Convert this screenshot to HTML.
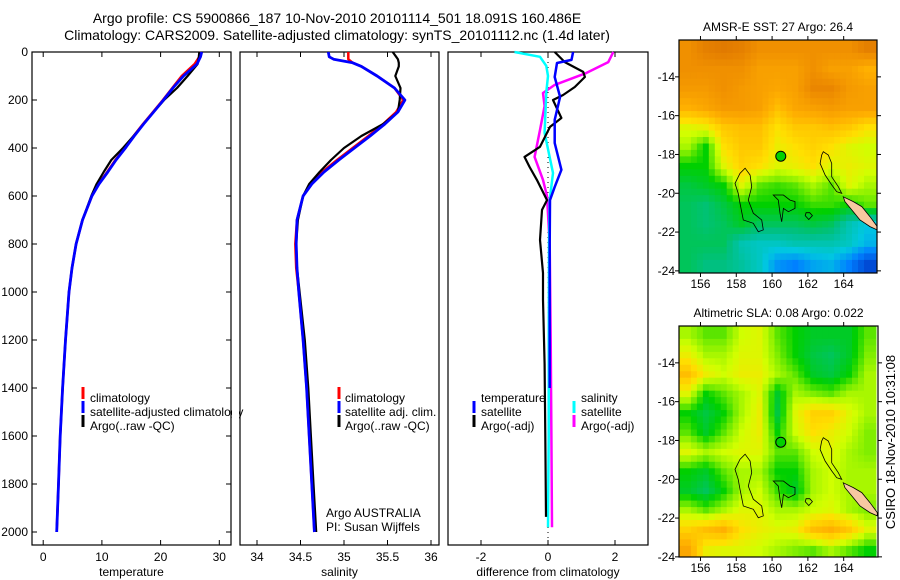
<!DOCTYPE html>
<html><head><meta charset="utf-8">
<style>
html,body{margin:0;padding:0;background:#fff;}
svg{display:block;font-family:"Liberation Sans",sans-serif;}
text{fill:#000;}
</style></head>
<body>
<svg id="fig" width="900" height="580" viewBox="0 0 900 580" xmlns="http://www.w3.org/2000/svg">
<text x="337" y="23" font-size="14" text-anchor="middle">Argo profile: CS 5900866_187 10-Nov-2010 20101114_501 18.091S 160.486E</text>
<text x="337" y="40" font-size="14" text-anchor="middle">Climatology: CARS2009. Satellite-adjusted climatology: synTS_20101112.nc (1.4d later)</text>
<g id="g"></g>
</svg>
<script>
// ---------- data ----------
const depthTicks=[0,200,400,600,800,1000,1200,1400,1600,1800,2000];
const tempTicks=[0,10,20,30];
const salTicks=[34,34.5,35,35.5,36];
const salTickLabels=["34","34.5","35","35.5","36"];
const diffTicks=[-2,0,2];
const lonTicks=[156,158,160,162,164];
const latTicks=[-14,-16,-18,-20,-22,-24];

const tempDepth=[0,20,50,100,150,200,250,300,350,400,450,500,550,600,700,800,900,1000,1200,1400,1600,1800,2000];
const tempClim=[26.8,26.6,25.8,23.6,22.0,20.4,18.7,17.0,15.4,13.9,12.3,10.9,9.4,8.3,6.7,5.6,4.9,4.4,3.8,3.3,2.9,2.6,2.3];
const tempSat=[27.0,26.8,26.2,23.9,22.1,20.5,18.8,17.1,15.5,14.0,12.4,11.0,9.5,8.3,6.7,5.6,4.9,4.4,3.8,3.3,2.9,2.6,2.3];
const tempArgo=[26.6,26.5,26.3,24.6,22.8,20.6,18.8,17.1,15.4,13.6,11.6,10.3,9.1,8.2,6.7,5.6,4.9,4.4,3.8,3.3,2.9,2.6,2.3];

const salDepth=[0,20,30,45,60,100,150,200,250,300,350,400,450,500,550,600,700,800,900,1000,1200,1400,1600,1800,2000];
const salClim=[35.05,35.05,35.05,35.1,35.2,35.38,35.58,35.68,35.6,35.45,35.28,35.1,34.92,34.75,34.62,34.53,34.46,34.44,34.45,34.48,34.53,34.57,34.6,34.63,34.66];
const salSat=[34.82,34.83,34.88,35.1,35.2,35.38,35.58,35.7,35.62,35.47,35.3,35.12,34.94,34.77,34.63,34.53,34.46,34.45,34.46,34.48,34.53,34.57,34.6,34.63,34.66];
const salArgo=[35.56,35.6,35.62,35.63,35.63,35.59,35.65,35.64,35.62,35.45,35.2,35.0,34.85,34.72,34.6,34.53,34.47,34.45,34.46,34.49,34.55,34.59,34.62,34.65,34.68];

const dTempArgoDepth=[0,42,83,104,146,179,200,275,312,395,437,479,533,617,658,783,921,1033,1300,1600,1937];
const dTempArgo=[0.2,0.5,1.05,1.1,0.8,0.45,0.15,0.4,0.06,-0.24,-0.7,-0.55,-0.33,-0.03,-0.18,-0.24,-0.15,-0.15,-0.1,-0.08,-0.06];
const dTempSatDepth=[0,33,46,104,187,283,379,491,562,617,800,1000,1400];
const dTempSat=[0.75,0.7,0.27,0.2,0.36,0.2,0.2,0.4,0.2,0.06,0.05,0.05,0.05];
const dSalSatDepth=[0,20,58,100,167,337,504,617,800,1200,1600,1980];
const dSalSat=[-1.0,-0.24,-0.05,0.0,-0.05,-0.1,0.15,0.05,0.03,0.02,0.02,0.0];
const dSalArgoDepth=[0,42,87,137,171,225,325,437,533,600,800,1200,1600,1980];
const dSalArgo=[1.95,1.8,1.15,0.2,-0.15,-0.1,-0.24,-0.4,-0.15,-0.03,0.05,0.08,0.1,0.12];

const sstGrid=[
[0.85,0.9,0.92,0.9,0.85,0.85,0.85,0.85,0.85,0.85,0.9],
[0.85,0.85,0.85,0.85,0.8,0.8,0.8,0.85,0.8,0.8,0.75],
[0.82,0.82,0.85,0.82,0.8,0.78,0.8,0.88,0.88,0.82,0.8],
[0.75,0.78,0.82,0.82,0.8,0.72,0.78,0.8,0.82,0.8,0.8],
[0.6,0.62,0.7,0.72,0.72,0.65,0.7,0.7,0.72,0.7,0.65],
[0.55,0.45,0.65,0.7,0.7,0.62,0.65,0.68,0.65,0.6,0.58],
[0.45,0.45,0.6,0.68,0.65,0.6,0.62,0.65,0.6,0.62,0.6],
[0.4,0.42,0.45,0.6,0.5,0.48,0.5,0.55,0.5,0.6,0.55],
[0.38,0.36,0.4,0.45,0.45,0.45,0.45,0.48,0.48,0.45,0.5],
[0.38,0.36,0.38,0.42,0.38,0.38,0.38,0.4,0.38,0.3,0.25],
[0.38,0.38,0.38,0.3,0.28,0.28,0.3,0.3,0.3,0.28,0.22],
[0.38,0.35,0.35,0.32,0.28,0.18,0.15,0.2,0.22,0.15,0.05]];
const slaGrid=[
[0.55,0.5,0.5,0.58,0.6,0.5,0.45,0.42,0.42,0.42,0.5],
[0.62,0.55,0.55,0.6,0.6,0.52,0.45,0.4,0.38,0.42,0.52],
[0.72,0.62,0.58,0.62,0.62,0.55,0.5,0.42,0.4,0.45,0.55],
[0.6,0.45,0.5,0.55,0.6,0.42,0.55,0.52,0.5,0.55,0.55],
[0.45,0.4,0.45,0.55,0.62,0.4,0.6,0.68,0.68,0.6,0.55],
[0.5,0.42,0.5,0.58,0.62,0.45,0.58,0.65,0.62,0.58,0.52],
[0.6,0.55,0.58,0.6,0.6,0.5,0.5,0.58,0.6,0.55,0.52],
[0.45,0.42,0.5,0.55,0.55,0.45,0.45,0.55,0.58,0.55,0.55],
[0.42,0.38,0.45,0.55,0.58,0.48,0.42,0.55,0.58,0.55,0.55],
[0.55,0.5,0.55,0.6,0.6,0.55,0.55,0.58,0.6,0.55,0.52],
[0.68,0.72,0.75,0.65,0.62,0.6,0.62,0.72,0.75,0.7,0.6],
[0.78,0.62,0.6,0.6,0.58,0.55,0.52,0.5,0.55,0.5,0.45]];
const gridLon0=154.8, gridLat0=-12.1;

const isl1=[[158.49,-18.71],[158.77,-19.06],[158.86,-19.66],[158.67,-20.35],[158.95,-21.03],[159.42,-21.38],[159.51,-21.89],[159.23,-21.98],[158.95,-21.55],[158.39,-21.38],[158.21,-20.52],[158.11,-20.0],[157.93,-19.49],[158.21,-18.97]];
const isl2=[[160.07,-20.09],[160.63,-20.09],[161.0,-20.35],[161.28,-20.43],[161.28,-20.78],[160.91,-20.95],[160.63,-20.78],[160.54,-21.47],[160.44,-21.03],[160.35,-20.35]];
const isl3=[[162.86,-17.86],[163.14,-18.03],[163.33,-18.46],[163.33,-19.15],[163.7,-19.66],[163.89,-20.0],[163.61,-19.92],[163.33,-19.57],[162.96,-19.06],[162.68,-18.46],[162.77,-18.03]];
const isl4=[[161.9,-21.0],[162.1,-21.0],[162.25,-21.15],[162.05,-21.35],[161.85,-21.15]];
const newCal=[[163.98,-20.18],[164.54,-20.43],[165.01,-20.69],[165.47,-21.21],[165.88,-21.72],[165.88,-21.89],[165.47,-21.72],[164.91,-21.38],[164.54,-20.95],[164.07,-20.43]];
const argoPos=[160.486,-18.091];

// ---------- helpers ----------
const NS="http://www.w3.org/2000/svg";
const G=document.getElementById('g');
function mk(tag,attrs,parent){const e=document.createElementNS(NS,tag);for(const k in attrs)e.setAttribute(k,attrs[k]);(parent||G).appendChild(e);return e;}
function txt(s,x,y,size,anchor,name){const t=mk('text',{x:x,y:y,'font-size':size,'text-anchor':anchor||'start'});t.textContent=s;


return t;}

const yTop=52, yBot=545;
const yD=d=>52+d*0.24;
const panels=[
 {x0:32,x1:231,sx:v=>43.2+v*5.87,name:'temperature-panel'},
 {x0:240,x1:439,sx:v=>257+(v-34)*87,name:'salinity-panel'},
 {x0:448,x1:648,sx:v=>548+v*33.5,name:'difference-panel'}];

function frame(p){
 const r=mk('rect',{x:p.x0,y:yTop,width:p.x1-p.x0,height:yBot-yTop,fill:'none',stroke:'#000','stroke-width':1.2});
 
 
}
function xticks(p,vals,labels,title){
 vals.forEach((v,i)=>{const x=p.sx(v);
  const a=mk('line',{x1:x,x2:x,y1:yBot,y2:yBot-5,stroke:'#000'});
  
  
  const b=mk('line',{x1:x,x2:x,y1:yTop,y2:yTop+5,stroke:'#000'});
  
  
  txt(labels[i],x,561,12,'middle','x-tick-label');});
 txt(title,(p.x0+p.x1)/2,576,12,'middle','x-axis-title');
}
function line(p,xs,ds,color,w,name){
 const pts=xs.map((v,i)=>p.sx(v).toFixed(1)+','+yD(ds[i]).toFixed(1)).join(' ');
 const l=mk('polyline',{points:pts,fill:'none',stroke:color,'stroke-width':w,'stroke-linejoin':'round'});
 
 
}
function legBar(x,y,color){const l=mk('line',{x1:x,x2:x,y1:y-11,y2:y+1,stroke:color,'stroke-width':3});
 
 }

const P0=panels[0],P1=panels[1],P2=panels[2];
frame(P0);
depthTicks.forEach(d=>{const y=yD(d);
 const a=mk('line',{x1:P0.x0,x2:P0.x0+5,y1:y,y2:y,stroke:'#000'});
 
 
 const b=mk('line',{x1:P0.x1,x2:P0.x1-5,y1:y,y2:y,stroke:'#000'});
 
 
 txt(String(d),28,y+4,12,'end','y-tick-label');});
xticks(P0,tempTicks,tempTicks.map(String),'temperature');
line(P0,tempClim,tempDepth,'#f00',2.5,'temp-climatology-line');
line(P0,tempArgo,tempDepth,'#000',2.2,'temp-argo-line');
line(P0,tempSat,tempDepth,'#00f',2.8,'temp-satellite-line');
legBar(83,398,'#f00');txt('climatology',90,402,12,'start','legend-climatology');
legBar(83,412,'#00f');txt('satellite-adjusted climatology',90,416,12,'start','legend-satellite-adjusted');
legBar(83,426,'#000');txt('Argo(..raw -QC)',90,430,12,'start','legend-argo');

const wipe=mk('rect',{x:232,y:yTop-2,width:7,height:yBot-yTop+4,fill:'#fff'});


frame(P1);
xticks(P1,salTicks,salTickLabels,'salinity');
line(P1,salClim,salDepth,'#f00',2.5,'sal-climatology-line');
line(P1,salArgo,salDepth,'#000',2.2,'sal-argo-line');
line(P1,salSat,salDepth,'#00f',2.8,'sal-satellite-line');
legBar(339,398,'#f00');txt('climatology',345,402,12,'start','legend-climatology');
legBar(339,412,'#00f');txt('satellite adj. clim.',345,416,12,'start','legend-satellite-adj');
legBar(339,426,'#000');txt('Argo(..raw -QC)',345,430,12,'start','legend-argo');
txt('Argo AUSTRALIA',326,517,12,'start','agency-label');
txt('PI: Susan Wijffels',326,531,12,'start','pi-label');

frame(P2);
xticks(P2,diffTicks,diffTicks.map(String),'difference from climatology');
const zl=mk('line',{x1:P2.sx(0),x2:P2.sx(0),y1:yTop,y2:yBot,stroke:'#000','stroke-dasharray':'1,4'});


line(P2,dSalArgo,dSalArgoDepth,'#f0f',2.5,'sal-argo-diff-line');
line(P2,dSalSat,dSalSatDepth,'#0ff',2.5,'sal-satellite-diff-line');
line(P2,dTempArgo,dTempArgoDepth,'#000',2.2,'temp-argo-diff-line');
line(P2,dTempSat,dTempSatDepth,'#00f',2.5,'temp-satellite-diff-line');
txt('temperature',481,402,12,'start','legend-temperature-header');
legBar(474,412,'#00f');txt('satellite',481,416,12,'start','legend-temp-satellite');
legBar(474,426,'#000');txt('Argo(-adj)',481,430,12,'start','legend-temp-argo');
txt('salinity',581,402,12,'start','legend-salinity-header');
legBar(574,412,'#0ff');txt('satellite',581,416,12,'start','legend-sal-satellite');
legBar(574,426,'#f0f');txt('Argo(-adj)',581,430,12,'start','legend-sal-argo');

// ---------- maps ----------
const stops=[[0,[0,48,192]],[0.15,[0,128,255]],[0.25,[0,200,224]],[0.35,[0,192,128]],[0.45,[0,208,0]],[0.52,[128,238,0]],[0.58,[208,255,0]],[0.65,[255,224,0]],[0.75,[255,176,0]],[0.85,[240,144,0]],[1,[208,96,0]]];
function cmap(v){v=Math.max(0,Math.min(1,v));for(let i=1;i<stops.length;i++){if(v<=stops[i][0]){const a=stops[i-1],b=stops[i],t=(v-a[0])/(b[0]-a[0]);
 const c=a[1].map((q,k)=>Math.round(q+(b[1][k]-q)*t));return 'rgb('+c.join(',')+')';}}return 'rgb(208,96,0)';}
function sample(grid,r,c){ // bilinear sample at fractional cell coords (cell centres at integer+0.5)
 const R=grid.length,C=grid[0].length;
 let fr=Math.max(0,Math.min(R-1,r-0.5)),fc=Math.max(0,Math.min(C-1,c-0.5));
 const r0=Math.floor(fr),c0=Math.floor(fc),r1=Math.min(R-1,r0+1),c1=Math.min(C-1,c0+1),tr=fr-r0,tc=fc-c0;
 return grid[r0][c0]*(1-tr)*(1-tc)+grid[r0][c1]*(1-tr)*tc+grid[r1][c0]*tr*(1-tc)+grid[r1][c1]*tr*tc;
}

function drawMap(m){
 const sx=lon=>m.x0+(lon-154.8)*17.9;
 const sy=lat=>m.y0+(-12.1-lat)*19.4;
 const grp=mk('g',{});
 
 
 const cp=mk('clipPath',{id:m.name+'-clip'},grp);
 mk('rect',{x:m.x0,y:m.y0,width:m.x1-m.x0,height:m.y1-m.y0},cp);
 const inner=mk('g',{'clip-path':'url(#'+m.name+'-clip)'},grp);
 const S=3, R=m.grid.length, C=m.grid[0].length;
 for(let r=0;r<R*S;r++)for(let c=0;c<C*S;c++){
  const v=sample(m.grid,(r+0.5)/S,(c+0.5)/S);
  const x=sx(gridLon0+c/S),y=sy(gridLat0-r/S);
  const cell=mk('rect',{x:x.toFixed(1),y:y.toFixed(1),width:(17.9/S+0.6).toFixed(2),height:(19.4/S+0.6).toFixed(2),fill:cmap(v)},inner);
  
  
 }
 const poly=(pts,fill,name)=>{const p=mk('polygon',{points:pts.map(q=>sx(q[0]).toFixed(1)+','+sy(q[1]).toFixed(1)).join(' '),fill:fill,stroke:'#000','stroke-width':0.8},inner);
  
  };
 poly(isl1,'none','coastline-chesterfield');
 poly(isl2,'none','coastline-reef');
 poly(isl3,'none','coastline-north-reef');
 poly(isl4,'none','coastline-islet');
 poly(newCal,'#f8c8a0','land-new-caledonia');
 const mk1=mk('circle',{cx:sx(argoPos[0]),cy:sy(argoPos[1]),r:5,fill:cmap(0.45),stroke:'#000'},inner);
 
 
 const fr=mk('rect',{x:m.x0,y:m.y0,width:m.x1-m.x0,height:m.y1-m.y0,fill:'none',stroke:'#000','stroke-width':1.2},grp);
 
 
 lonTicks.forEach(l=>{const x=sx(l);
  const a=mk('line',{x1:x,x2:x,y1:m.y1,y2:m.y1+4,stroke:'#000'},grp);
  
  
  const b=mk('line',{x1:x,x2:x,y1:m.y0,y2:m.y0-4,stroke:'#000'},grp);
  
  
  txt(String(l),x,m.y1+15,12,'middle','map-lon-label');});
 latTicks.forEach(l=>{const y=sy(l);
  const a=mk('line',{x1:m.x0,x2:m.x0-4,y1:y,y2:y,stroke:'#000'},grp);
  
  
  const b=mk('line',{x1:m.x1,x2:m.x1+4,y1:y,y2:y,stroke:'#000'},grp);
  
  
  txt(String(l),m.x0-4,y+4,12,'end','map-lat-label');});
 txt(m.title,(m.x0+m.x1)/2,m.y0-9,12,'middle',m.name+'-title');
}
drawMap({name:'sst-map',x0:679,x1:877,y0:40,y1:273,grid:sstGrid,title:'AMSR-E SST: 27 Argo: 26.4'});
drawMap({name:'sla-map',x0:679,x1:878,y0:326,y1:557,grid:slaGrid,title:'Altimetric SLA: 0.08 Argo: 0.022'});

const stamp=txt('CSIRO 18-Nov-2010 10:31:08',0,0,13,'middle','timestamp-label');
stamp.setAttribute('transform','translate(895,442) rotate(-90)');
</script>
</body></html>
